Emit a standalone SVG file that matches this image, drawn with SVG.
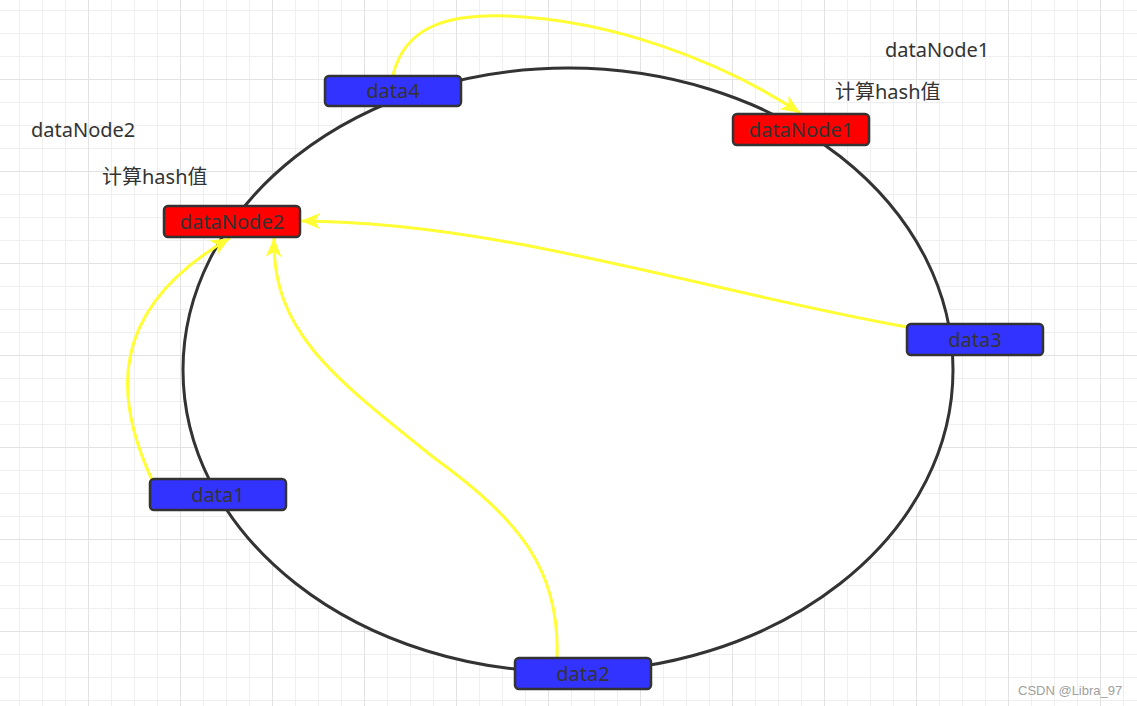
<svg xmlns="http://www.w3.org/2000/svg" width="1137" height="706" viewBox="0 0 1137 706">
  <style>
    .box { stroke: #333333; stroke-width: 2.5; }
    .blue { fill: #3333ff; }
    .red { fill: #ff0000; }
    .lbl { font-family: "Noto Sans", "Noto Sans CJK SC", sans-serif; font-size: 20px; fill: #333333; }
    .ntext { font-family: "Noto Sans", "Noto Sans CJK SC", sans-serif; font-size: 20px; fill: #333333; text-anchor: middle; }
    .conn { fill: none; stroke: #ffff33; stroke-width: 3; marker-end: url(#arrow); }
    .wm { font-family: "Liberation Sans", Arial, sans-serif; font-size: 13px; fill: #a0a0a0; }
  </style>
  <defs>
    <pattern id="grid" patternUnits="userSpaceOnUse" x="-4" y="-13" width="92" height="92">
      <rect x="0" y="0" width="92" height="92" fill="#ffffff"/>
      <rect x="23" y="0" width="1" height="92" fill="#efefef"/>
      <rect x="46" y="0" width="1" height="92" fill="#efefef"/>
      <rect x="69" y="0" width="1" height="92" fill="#efefef"/>
      <rect x="0" y="23" width="92" height="1" fill="#efefef"/>
      <rect x="0" y="46" width="92" height="1" fill="#efefef"/>
      <rect x="0" y="69" width="92" height="1" fill="#efefef"/>
      <rect x="0" y="0" width="1" height="92" fill="#e2e2e2"/>
      <rect x="0" y="0" width="92" height="1" fill="#e2e2e2"/>
    </pattern>
    <marker id="arrow" markerUnits="userSpaceOnUse" markerWidth="20" markerHeight="16" refX="19" refY="8" orient="auto">
      <path d="M0,0 L19,8 L0,16 L5,8 Z" fill="#ffff33"/>
    </marker>
  </defs>

  <rect x="0" y="0" width="1137" height="706" fill="url(#grid)"/>

  <g id="ring">
    <ellipse cx="568" cy="370" rx="385" ry="302" fill="#ffffff" stroke="#333333" stroke-width="3"/>
  </g>

  <g id="connectors">
    <path class="conn" d="M393,75 C405,25 450,14 507,16 C610,20 720,60 800,113"/>
    <path class="conn" d="M907,327 C700,290 500,222 301,221"/>
    <path class="conn" d="M152,480 C115,400 105,310 230,238"/>
    <path class="conn" d="M557,657 C560,570 520,520 433,457 C330,375 272,330 274,238"/>
  </g>

  <g id="data4">
    <rect class="box blue" x="325" y="76" width="136" height="30" rx="4"/>
    <text class="ntext" x="393" y="98">data4</text>
  </g>
  <g id="dataNode1">
    <rect class="box red" x="733" y="114" width="136" height="31" rx="4"/>
    <text class="ntext" x="801" y="137">dataNode1</text>
  </g>
  <g id="dataNode2">
    <rect class="box red" x="164" y="206" width="136" height="31" rx="4"/>
    <text class="ntext" x="232" y="229">dataNode2</text>
  </g>
  <g id="data3">
    <rect class="box blue" x="907" y="324" width="136" height="31" rx="4"/>
    <text class="ntext" x="975" y="347">data3</text>
  </g>
  <g id="data1">
    <rect class="box blue" x="150" y="479" width="136" height="31" rx="4"/>
    <text class="ntext" x="218" y="502">data1</text>
  </g>
  <g id="data2">
    <rect class="box blue" x="515" y="658" width="136" height="31" rx="4"/>
    <text class="ntext" x="583" y="681">data2</text>
  </g>

  <g id="labels">
    <text class="lbl" x="885" y="57">dataNode1</text>
    <text class="lbl" x="835" y="99">计算hash值</text>
    <text class="lbl" x="31" y="137">dataNode2</text>
    <text class="lbl" x="102" y="184">计算hash值</text>
  </g>

  <text class="wm" x="1018" y="695">CSDN @Libra_97</text>
</svg>
